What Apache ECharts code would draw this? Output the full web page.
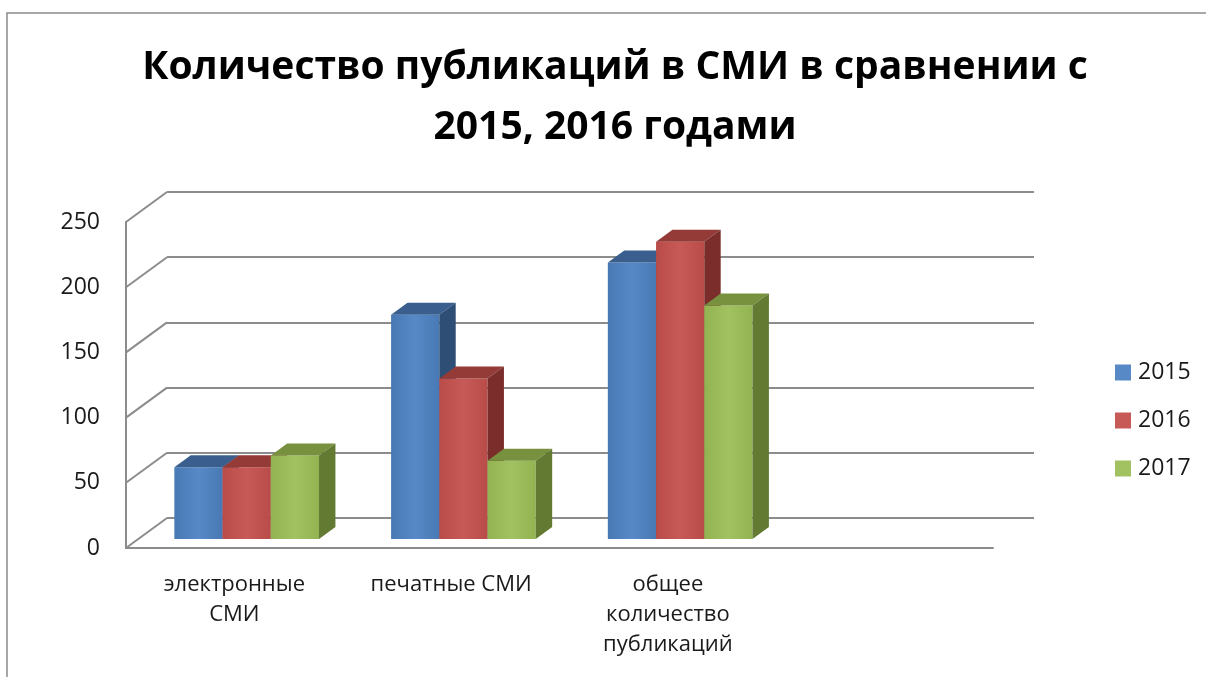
<!DOCTYPE html>
<html>
<head>
<meta charset="utf-8">
<script src="https://cdn.jsdelivr.net/npm/echarts@6/dist/echarts.min.js"></script>
<style>
  html, body { margin: 0; padding: 0; background: #fff; }
  #chart { width: 1206px; height: 677px; }
</style>
</head>
<body>
<div id="chart"></div>
<script>
// категории и значения
const categories = ['электронные\nСМИ', 'печатные СМИ', 'общее\nколичество\nпубликаций', ''];
const years = ['2015', '2016', '2017'];
const values2015 = [55, 172, 212];
const values2016 = [55, 123, 228];
const values2017 = [64, 60, 179];
const yTicks = [0, 50, 100, 150, 200, 250];

// цвета граней: лицевая, верх, бок
const faceColors = [
  { front: ['#4879B5', '#5689C6'], top: '#3A5F8E', side: '#2E4E76' },
  { front: ['#B94B48', '#C75A57'], top: '#943A37', side: '#7B2D2B' },
  { front: ['#93B352', '#A2C262'], top: '#77913F', side: '#627A32' }
];

// глубина "3D"
const DX = 41, DY = 30;
const F0 = 0.3, DEPTH = 0.4;
const BAR_SHARE = 0.2225;
const LINE = '#8C8C8C';
const FONT = '"Open Sans", "Noto Sans", sans-serif';

const chart = echarts.init(document.getElementById('chart'));

// рисуем столбик как три грани
function barRenderer(idx) {
  return function (params, api) {
    const cat = api.value(0);
    const val = api.value(1);
    const base = api.coord([cat, 0]);
    const top = api.coord([cat, val]);
    const band = api.size([1, 0])[0];
    const bw = band * BAR_SHARE;
    const x0 = base[0] - 1.5 * bw + idx * bw + DX * F0;
    const yb = base[1] - DY * F0;
    const yt = top[1] - DY * F0;
    const ddx = DX * DEPTH, ddy = DY * DEPTH;
    const c = faceColors[idx];
    return {
      type: 'group',
      children: [
        {
          type: 'polygon',
          shape: { points: [[x0, yb], [x0, yt], [x0 + bw, yt], [x0 + bw, yb]] },
          style: {
            fill: new echarts.graphic.LinearGradient(0, 0, 1, 0, [
              { offset: 0, color: c.front[0] },
              { offset: 0.5, color: c.front[1] },
              { offset: 1, color: c.front[0] }
            ])
          }
        },
        {
          type: 'polygon',
          shape: { points: [[x0, yt], [x0 + ddx, yt - ddy], [x0 + bw + ddx, yt - ddy], [x0 + bw, yt]] },
          style: { fill: c.top }
        },
        {
          type: 'polygon',
          shape: { points: [[x0 + bw, yt], [x0 + bw + ddx, yt - ddy], [x0 + bw + ddx, yb - ddy], [x0 + bw, yb]] },
          style: { fill: c.side }
        }
      ]
    };
  };
}

// боковая стенка: диагонали от передней оси к задней стене
function wallRenderer(params, api) {
  const v = api.value(0);
  const p = api.coord([0, v]);
  const x = params.coordSys.x;
  return {
    type: 'line',
    shape: { x1: x, y1: p[1], x2: x + DX, y2: p[1] - DY },
    style: { stroke: LINE, lineWidth: 2 }
  };
}

const seriesValues = [values2015, values2016, values2017];

const option = {
  animation: false,
  color: ['#4F81BD', '#C0504D', '#9BBB59'],
  title: {
    text: 'Количество публикаций в СМИ в сравнении с\n2015, 2016 годами',
    left: 615,
    top: 38,
    textAlign: 'center',
    padding: 0,
    textStyle: {
      fontFamily: FONT,
      fontSize: 39,
      fontWeight: 'bold',
      color: '#000',
      lineHeight: 60
    }
  },
  legend: {
    data: years,
    orient: 'vertical',
    left: 1115,
    top: 361,
    padding: 0,
    icon: 'rect',
    itemWidth: 16,
    itemHeight: 16,
    itemGap: 25,
    textStyle: { fontFamily: FONT, fontSize: 23, color: '#1a1a1a', padding: [0, 0, 0, 2] }
  },
  grid: [
    // задняя стена
    { left: 167, right: 172, top: 192, bottom: 159, outerBoundsMode: 'none' },
    // передняя плоскость
    { left: 126, right: 213, top: 222, bottom: 129, outerBoundsMode: 'none' }
  ],
  xAxis: [
    {
      gridIndex: 0, type: 'category', data: categories,
      axisLine: { show: false }, axisTick: { show: false }, axisLabel: { show: false }
    },
    {
      gridIndex: 1, type: 'category', data: categories,
      axisLine: { lineStyle: { color: LINE, width: 2 } },
      axisTick: { show: false },
      axisLabel: {
        interval: 0,
        margin: 22,
        fontFamily: FONT,
        fontSize: 22,
        lineHeight: 30,
        color: '#1a1a1a'
      }
    }
  ],
  yAxis: [
    {
      gridIndex: 0, type: 'value', min: 0, max: 250, interval: 50,
      axisLine: { show: false }, axisTick: { show: false }, axisLabel: { show: false },
      splitLine: { lineStyle: { color: LINE, width: 2 } }
    },
    {
      gridIndex: 1, type: 'value', min: 0, max: 250, interval: 50,
      axisLine: { show: true, lineStyle: { color: LINE, width: 2 } },
      axisTick: { show: false },
      splitLine: { show: false },
      axisLabel: { margin: 26, fontFamily: FONT, fontSize: 23, color: '#1a1a1a' }
    }
  ],
  graphic: [
    {
      type: 'polyline',
      shape: { points: [[7, 677], [7, 13], [1206, 13]] },
      style: { stroke: '#8a8a8a', lineWidth: 1.5, fill: null },
      silent: true
    }
  ],
  series: [
    {
      type: 'custom',
      name: 'стенка',
      xAxisIndex: 1,
      yAxisIndex: 1,
      renderItem: wallRenderer,
      data: yTicks.map(v => [v]),
      encode: { y: 0 },
      silent: true,
      z: 1
    }
  ].concat(years.map((y, i) => ({
    type: 'custom',
    name: y,
    xAxisIndex: 1,
    yAxisIndex: 1,
    renderItem: barRenderer(i),
    itemStyle: { color: faceColors[i].front[1] },
    data: seriesValues[i].map((v, j) => [j, v]),
    encode: { x: 0, y: 1 },
    z: 3
  })))
};

chart.setOption(option);
</script>
</body>
</html>
